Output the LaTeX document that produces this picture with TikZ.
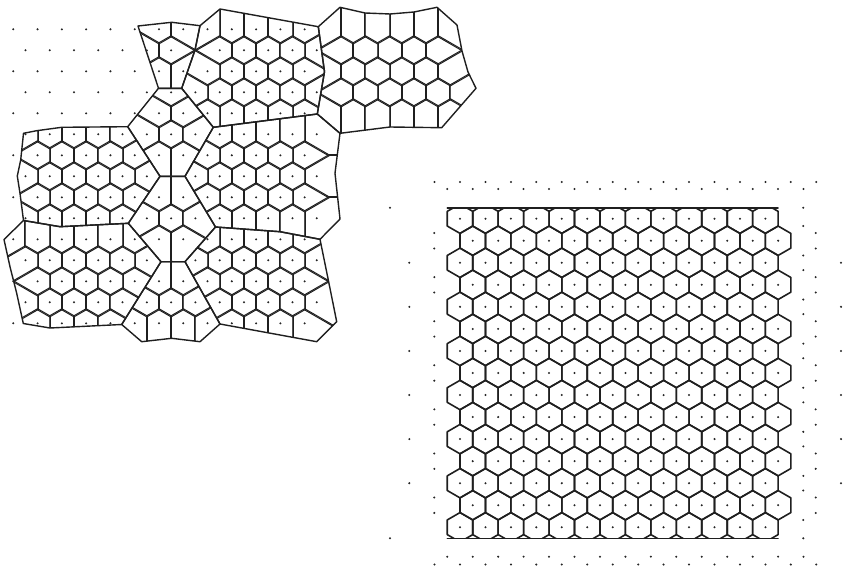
\documentclass[tikz,border=0pt]{standalone}
\tikzset{wall/.style={line width=1.2pt,draw=black!88,line join=round,line cap=round},
  cellwall/.style={line width=1.5pt,draw=black!88,line join=round,line cap=round},
  site/.style={fill=black!85}}
\newcount\pipcross
\newcommand\pipTest[3]{%
  \global\pipcross=0
  \foreach \X/\Y [remember=\X as \LX (initially 0), remember=\Y as \LY (initially 0), count=\pipn] in #1 {%
    \ifnum\pipn>1
      \pgfmathtruncatemacro\pipS{(\LY>#3)+(\Y>#3)}%
      \ifnum\pipS=1
        \pgfmathsetmacro\pipXi{(\X-\LX)*(#3-\LY)/(\Y-\LY)+\LX}%
        \ifdim #2pt<\pipXi pt\relax \global\advance\pipcross by 1 \fi
      \fi
    \fi
  }%
}
\newcommand\computeMembers[6]{%
  \foreach \KK in {#2,...,#3} {%
    \foreach \QQ in {#4,...,#5} {%
      \ifodd\numexpr\KK+\QQ\relax\else
        \pgfmathsetmacro\SX{13.3+12.14*\QQ}%
        \pgfmathsetmacro\SY{29.3+21*\KK}%
        \pipTest{#6}{\SX}{\SY}%
        \ifodd\pipcross
          \expandafter\xdef\csname in@#1@\KK @\QQ\endcsname{}%
        \fi
      \fi
    }%
  }%
}
\newcommand\exclude[3]{\global\expandafter\let\csname in@#1@#2@#3\endcsname\undefined}
\newcommand\makepath[2]{%
  \gdef#1{}%
  \foreach \X/\Y [count=\mpn] in #2 {%
    \ifnum\mpn=1 \xdef#1{(\X,\Y)}\else \xdef#1{#1 -- (\X,\Y)}\fi
  }%
  \xdef#1{#1 -- cycle}%
}
\def\offsets{0/2,0/-2,1/1,1/-1,-1/1,-1/-1,1/3,1/-3,-1/3,-1/-3,2/0,-2/0,0/4,0/-4,2/2,2/-2,-2/2,-2/-2,1/5,1/-5,-1/5,-1/-5,2/4,2/-4,-2/4,-2/-4,3/1,3/-1,-3/1,-3/-1}
\newcommand\drawPatch[6]{%
  \begin{scope}
    \edef\tmpclip{\noexpand\clip #6;}\tmpclip
    \foreach \KK in {#2,...,#3} {%
      \foreach \QQ in {#4,...,#5} {%
        \ifcsname in@#1@\KK @\QQ\endcsname
          \pgfmathsetmacro\SX{13.3+12.14*\QQ}%
          \pgfmathsetmacro\SY{29.3+21*\KK}%
          \gdef\cliplist{}\gdef\linelist{}%
          \foreach \DK/\DQ in \offsets {%
            \edef\NK{\the\numexpr\KK+\DK\relax}\edef\NQ{\the\numexpr\QQ+\DQ\relax}%
            \ifcsname in@#1@\NK @\NQ\endcsname
              \xdef\cliplist{\unexpanded\expandafter{\cliplist}\noexpand\clip \csname hp@\DK @\DQ\endcsname;}%
              \xdef\linelist{\unexpanded\expandafter{\linelist}\noexpand\draw[cellwall] \csname bl@\DK @\DQ\endcsname;}%
            \fi
          }%
          \begin{scope}[shift={(\SX,\SY)}]
            \cliplist\linelist
          \end{scope}
        \fi
      }%
    }%
  \end{scope}
}
% vertices (image pixel coordinates)
\def\vPa{138/26}\def\vPb{171.7/22.3}
\def\vJz{220/9}\def\vJa{200/25.7}\def\vJb{195/50}\def\vJc{181.7/88.3}\def\vJd{158.5/88.3}
\def\vJe{127.7/126.7}\def\vJf{213.3/127.3}\def\vJg{160/176.3}\def\vJh{185/176.3}
\def\vJi{128.3/223.3}\def\vJj{215.5/227}\def\vJk{161/261.7}\def\vJl{185/261.7}
\def\vJm{121.7/324.5}\def\vJn{220/324}\def\vJo{318.3/26.7}\def\vJp{324.5/71.7}
\def\vJq{317.3/114}\def\vJr{340/133.3}\def\vJs{340/7.3}\def\vJt{320/239.3}\def\vJu{23.5/220.5}
\def\vKa{280/231.7}
\def\vBa{200/341.7}\def\vBb{171.7/338.3}\def\vBc{141.7/341.7}
\def\vLa{61.7/127.3}\def\vLb{36.7/130.7}\def\vLc{23.5/133.3}\def\vLd{20.7/160}\def\vLe{17.3/176}\def\vLf{20/193.3}
\def\vTa{60/226.7}
\def\vMa{4/239.5}\def\vMb{10/266.7}\def\vMc{16.7/293.3}\def\vMd{23.3/323.5}\def\vMe{50/328}
\def\vRa{335/173.3}\def\vRb{340/219}\def\vRc{328.3/280}\def\vRd{336.7/321.7}\def\vRe{316.7/341.7}
\def\vUa{365/13}\def\vUb{390/14}\def\vUc{414/12}\def\vUd{437/7.3}\def\vUe{457/25}\def\vUf{462/51}
\def\vUg{468/72}\def\vUh{476/88.3}\def\vUi{441.7/127.7}\def\vUj{390/127}
\edef\polyA{\vPa,\vPb,\vJa,\vJb,\vJc,\vJd,\vPa}
\edef\polyB{\vJz,\vJo,\vJp,\vJq,\vJf,\vJc,\vJb,\vJa,\vJz}
\edef\polyC{\vJs,\vUa,\vUb,\vUc,\vUd,\vUe,\vUf,\vUg,\vUh,\vUi,\vUj,\vJr,\vJq,\vJp,\vJo,\vJs}
\edef\polyD{\vJd,\vJc,\vJf,\vJh,\vJg,\vJe,\vJd}
\edef\polyE{\vJe,\vJg,\vJi,\vTa,\vJu,\vLf,\vLe,\vLd,\vLc,\vLb,\vLa,\vJe}
\edef\polyF{\vJf,\vJq,\vJr,\vRa,\vRb,\vJt,\vKa,\vJj,\vJh,\vJf}
\edef\polyG{\vJg,\vJh,\vJj,\vJl,\vJk,\vJi,\vJg}
\edef\polyH{\vJu,\vTa,\vJi,\vJk,\vJm,\vMe,\vMd,\vMc,\vMb,\vMa,\vJu}
\edef\polyI{\vJk,\vJl,\vJn,\vBa,\vBb,\vBc,\vJm,\vJk}
\edef\polyK{\vJj,\vKa,\vJt,\vRc,\vRd,\vRe,\vJn,\vJl,\vJj}
\begin{document}
\begin{tikzpicture}[x=0.75pt,y=-0.75pt]
\useasboundingbox (0,0) rectangle (859,567);
% half-planes for Voronoi cells
\foreach \DK/\DQ in \offsets {%
  \pgfmathsetmacro\hdx{12.14*\DQ}%
  \pgfmathsetmacro\hdy{21*\DK}%
  \pgfmathsetmacro\hln{sqrt((\hdx)*(\hdx)+(\hdy)*(\hdy))}%
  \pgfmathsetmacro\hux{(\hdx)/(\hln)}%
  \pgfmathsetmacro\huy{(\hdy)/(\hln)}%
  \pgfmathsetmacro\hax{(\hdx)/2-100*(\huy)}%
  \pgfmathsetmacro\hay{(\hdy)/2+100*(\hux)}%
  \pgfmathsetmacro\hbx{(\hdx)/2+100*(\huy)}%
  \pgfmathsetmacro\hby{(\hdy)/2-100*(\hux)}%
  \pgfmathsetmacro\hcx{(\hbx)-100*(\hux)}%
  \pgfmathsetmacro\hcy{(\hby)-100*(\huy)}%
  \pgfmathsetmacro\hex{(\hax)-100*(\hux)}%
  \pgfmathsetmacro\hey{(\hay)-100*(\huy)}%
  \expandafter\xdef\csname hp@\DK @\DQ\endcsname{(\hax,\hay) -- (\hbx,\hby) -- (\hcx,\hcy) -- (\hex,\hey) -- cycle}%
  \expandafter\xdef\csname bl@\DK @\DQ\endcsname{(\hax,\hay) -- (\hbx,\hby)}%
}
% memberships
\computeMembers{A}{0}{2}{10}{16}{\polyA}
\computeMembers{B}{0}{4}{14}{25}{\polyB}
\computeMembers{C}{0}{5}{26}{38}{\polyC}
\computeMembers{D}{3}{7}{9}{17}{\polyD}
\computeMembers{E}{5}{9}{0}{13}{\polyE}
\computeMembers{F}{5}{9}{14}{25}{\polyF}
\computeMembers{G}{7}{11}{9}{17}{\polyG}
\computeMembers{H}{10}{14}{0}{13}{\polyH}
\computeMembers{I}{11}{14}{8}{18}{\polyI}
\computeMembers{K}{10}{14}{13}{25}{\polyK}
\exclude{G}{7}{13}
\exclude{G}{11}{13}
\exclude{B}{1}{15}
% paths
\makepath\pathA\polyA \makepath\pathB\polyB \makepath\pathC\polyC
\makepath\pathD\polyD \makepath\pathE\polyE \makepath\pathF\polyF
\makepath\pathG\polyG \makepath\pathH\polyH \makepath\pathI\polyI
\makepath\pathK\polyK
% cells
\drawPatch{A}{0}{2}{10}{16}{\pathA}
\drawPatch{B}{0}{4}{14}{25}{\pathB}
\drawPatch{C}{0}{5}{26}{38}{\pathC}
\drawPatch{D}{3}{7}{9}{17}{\pathD}
\drawPatch{E}{5}{9}{0}{13}{\pathE}
\drawPatch{F}{5}{9}{14}{25}{\pathF}
\drawPatch{G}{7}{11}{9}{17}{\pathG}
\drawPatch{H}{10}{14}{0}{13}{\pathH}
\drawPatch{I}{11}{14}{8}{18}{\pathI}
\drawPatch{K}{10}{14}{13}{25}{\pathK}
% outlines
\foreach \pp in {\pathA,\pathB,\pathC,\pathD,\pathE,\pathF,\pathG,\pathH,\pathI,\pathK}{%
  \edef\tmpdraw{\noexpand\draw[wall,line width=1.05pt] \pp;}\tmpdraw}
% left dots
\foreach \KK in {0,...,14}{%
  \foreach \QQ in {0,...,25}{%
    \ifodd\numexpr\KK+\QQ\relax\else
      \fill[site] ({13.3+12.14*\QQ},{29.3+21*\KK}) circle (0.85pt);
    \fi}}
% right panel
\begin{scope}
  \clip (380,207.7) rectangle (830,538.3);
  \foreach \r in {0,...,14}{%
    \foreach \j in {0,...,12}{%
      \pgfmathsetmacro\hx{460+12.725*mod(\r,2)+25.45*\j}%
      \pgfmathsetmacro\hy{218.7+22.04*\r}%
      \draw[wall,shift={(\hx,\hy)}] (12.725,-7.347) -- (0,-14.694) -- (-12.725,-7.347) -- (-12.725,7.347) -- (0,14.694) -- (12.725,7.347) -- cycle;
    }}
\end{scope}
\draw[wall] (447.3,207.7) -- (778,207.7);
\draw[wall] (447.3,538.3) -- (778,538.3);
\foreach \r in {0,...,14}{%
  \foreach \j in {0,...,12}{%
    \fill[site] ({460+12.725*mod(\r,2)+25.45*\j},{218.7+22.04*\r}) circle (0.85pt);
  }}
\foreach \j in {-1,...,14}{%
  \fill[site] ({460+25.45*\j},182) circle (0.85pt);
  \fill[site] ({460+25.45*\j},564.5) circle (0.85pt);}
\foreach \j in {-1,...,13}{%
  \fill[site] ({472.7+25.45*\j},189) circle (0.85pt);
  \fill[site] ({472.7+25.45*\j},556.7) circle (0.85pt);}
\foreach \r in {1,3,...,13}{%
  \pgfmathsetmacro\hy{218.7+22.04*\r}%
  \fill[site] (434.3,{\hy-7.7}) circle (0.85pt);
  \fill[site] (434.3,{\hy+7.7}) circle (0.85pt);
  \fill[site] (815.7,{\hy-7.7}) circle (0.85pt);
  \fill[site] (815.7,{\hy+7.7}) circle (0.85pt);}
\foreach \r in {2,4,...,12}{%
  \pgfmathsetmacro\hy{218.7+22.04*\r}%
  \fill[site] (409.3,\hy) circle (0.85pt);
  \fill[site] (841,\hy) circle (0.85pt);
  \fill[site] (803.3,{\hy-7.3}) circle (0.85pt);
  \fill[site] (803.3,{\hy+7.3}) circle (0.85pt);}
\fill[site] (390,207.7) circle (0.85pt);
\fill[site] (390,538.3) circle (0.85pt);
\fill[site] (803.3,207.7) circle (0.85pt);
\fill[site] (803.3,226) circle (0.85pt);
\fill[site] (803.3,520) circle (0.85pt);
\fill[site] (803.3,538.3) circle (0.85pt);
\end{tikzpicture}
\end{document}
